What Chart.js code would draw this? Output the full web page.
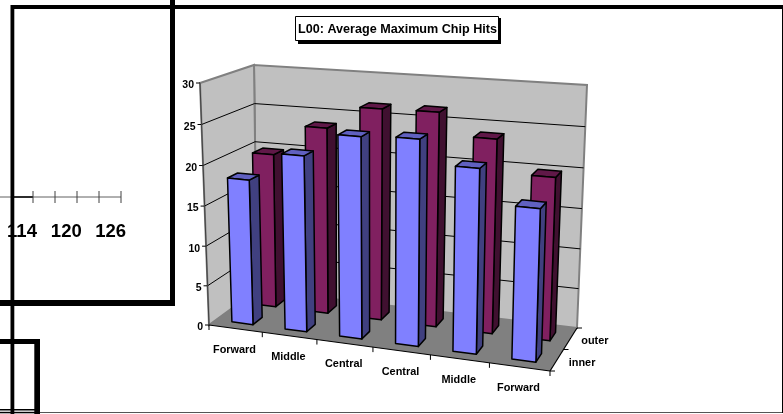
<!DOCTYPE html>
<html>
<head>
<meta charset="utf-8">
<title>L00: Average Maximum Chip Hits</title>
<style>
  html, body { margin: 0; padding: 0; background: #fff; }
  canvas { display: block; }
</style>
<script src="https://cdn.jsdelivr.net/npm/chart.js@4"></script>
</head>
<body>
<canvas id="hitsChart" width="783" height="414"></canvas>
<script>
const chartTitle = 'L00: Average Maximum Chip Hits';
const categories = ['Forward', 'Middle', 'Central', 'Central', 'Middle', 'Forward'];
const innerHits = [18.2, 21.8, 24.7, 25, 22.2, 18.2];
const outerHits = [19.8, 23.7, 26.6, 26.7, 24, 20];
const rulerLabels = ['114', '120', '126'];

const FONT = '"Liberation Sans", Arial, sans-serif';
const innerShades = { front: '#8080ff', side: '#404080', top: '#6060c0' };
const outerShades = { front: '#802060', side: '#401030', top: '#601848' };

// corners of the 3D box on screen, b = floor, t = top; first digit left/right, second front/back
const box = {
  b00: [209, 325], b10: [550, 371], b01: [257, 290], b11: [577, 328],
  t00: [200, 83], t10: [558, 111], t01: [254, 65], t11: [587, 85]
};
const ROW_DEPTH = [0.25, 0.75];
const BAR_DEPTH = 0.2;

const lerp = (a, b, t) => [a[0] + (b[0] - a[0]) * t, a[1] + (b[1] - a[1]) * t];
// slight foreshortening so the near end of an axis gets wider steps
const warp = (t, k) => t / (k - (k - 1) * t);

function project(u, v, w) {
  const uu = warp(u, 1.08), vv = warp(v, 1.035);
  const bottom = lerp(lerp(box.b00, box.b10, uu), lerp(box.b01, box.b11, uu), w);
  const top = lerp(lerp(box.t00, box.t10, uu), lerp(box.t01, box.t11, uu), w);
  return lerp(bottom, top, vv);
}

function poly(ctx, pts, fill, stroke, lw) {
  ctx.beginPath();
  pts.forEach((p, i) => i ? ctx.lineTo(p[0], p[1]) : ctx.moveTo(p[0], p[1]));
  ctx.closePath();
  if (fill) { ctx.fillStyle = fill; ctx.fill(); }
  if (stroke) { ctx.strokeStyle = stroke; ctx.lineWidth = lw; ctx.stroke(); }
}

function line(ctx, a, b, color, lw) {
  ctx.beginPath();
  ctx.moveTo(a[0], a[1]);
  ctx.lineTo(b[0], b[1]);
  ctx.strokeStyle = color;
  ctx.lineWidth = lw;
  ctx.stroke();
}

function label(ctx, text, x, y, size, align) {
  ctx.font = `bold ${size}px ${FONT}`;
  ctx.fillStyle = '#000';
  ctx.textAlign = align;
  ctx.textBaseline = 'middle';
  ctx.fillText(text, x, y);
}

function drawWalls(ctx, yScale) {
  const v = val => (yScale.bottom - yScale.getPixelForValue(val)) / (yScale.bottom - yScale.top);
  poly(ctx, [project(0, 0, 1), project(1, 0, 1), project(1, 1, 1), project(0, 1, 1)], '#c0c0c0', '#808080', 2);
  poly(ctx, [project(0, 0, 0), project(0, 0, 1), project(0, 1, 1), project(0, 1, 0)], '#c0c0c0', '#808080', 2);
  poly(ctx, [project(0, 0, 0), project(1, 0, 0), project(1, 0, 1), project(0, 0, 1)], '#808080');

  yScale.ticks.forEach(t => {
    const a = project(0, v(t.value), 0), b = project(0, v(t.value), 1), c = project(1, v(t.value), 1);
    if (t.value > 0 && t.value < yScale.max) {
      line(ctx, a, b, '#000', 1);
      line(ctx, b, c, '#000', 1);
    }
    line(ctx, [a[0] - 4, a[1]], a, '#000', 1);
    label(ctx, String(t.value), a[0] - 6, a[1] + 2.5, 10.5, 'right');
  });
}

function drawAxes(ctx, xScale) {
  line(ctx, project(0, 0, 0), project(0, 1, 0), '#404040', 1);
  line(ctx, project(0, 0, 0), project(1, 0, 0), '#000', 1.2);
  line(ctx, project(1, 0, 0), project(1, 0, 1), '#000', 1.2);

  const n = categories.length;
  for (let i = 0; i <= n; i++) {
    const p = project(i / n, 0, 0);
    line(ctx, p, [p[0], p[1] + 5], '#000', 1);
  }
  xScale.ticks.forEach((t, i) => {
    const p = project((i + 0.5) / n, 0, 0);
    label(ctx, t.label, p[0] - 1, p[1] + 21, 10.9, 'center');
  });

  [0, 0.5, 1].forEach(w => {
    const p = project(1, 0, w);
    line(ctx, p, [p[0] + 5, p[1]], '#000', 1);
  });
}

function drawBar(ctx, el, area, w0, shades) {
  const props = el.getProps(['x', 'y', 'width'], true);
  const u0 = (props.x - props.width / 2 - area.left) / area.width;
  const u1 = (props.x + props.width / 2 - area.left) / area.width;
  const v = (area.bottom - props.y) / area.height;
  const w1 = w0 + BAR_DEPTH;
  ctx.lineJoin = 'round';
  poly(ctx, [project(u1, 0, w0), project(u1, 0, w1), project(u1, v, w1), project(u1, v, w0)], shades.side, '#000', 1.5);
  poly(ctx, [project(u0, v, w0), project(u1, v, w0), project(u1, v, w1), project(u0, v, w1)], shades.top, '#000', 1.5);
  poly(ctx, [project(u0, 0, w0), project(u1, 0, w0), project(u1, v, w0), project(u0, v, w0)], shades.front, '#000', 1.5);
}

function drawTitleBox(ctx) {
  ctx.fillStyle = '#000';
  ctx.fillRect(298, 18, 203, 26);
  ctx.fillStyle = '#fff';
  ctx.fillRect(295, 16, 203, 25);
  ctx.strokeStyle = '#000';
  ctx.lineWidth = 1;
  ctx.strokeRect(295.5, 16.5, 203, 24);
  label(ctx, chartTitle, 397.5, 29.5, 12.6, 'center');
}

// neighbouring panels that run under and around the chart
function drawFrames(ctx) {
  line(ctx, [0, 197], [121, 197], '#606060', 1);
  line(ctx, [14, 197], [33, 197], '#000', 1.5);
  [33, 55, 77, 99, 121].forEach(x => line(ctx, [x, 191], [x, 203], '#404040', 1));
  rulerLabels.forEach((text, i) => label(ctx, text, 22 + i * 44.3, 231.5, 18.5, 'center'));

  ctx.fillStyle = '#000';
  ctx.fillRect(11, 5, 772, 4);
  ctx.fillRect(10.5, 5, 3.8, 409);
  ctx.fillRect(170, 0, 5, 306);
  ctx.fillRect(0, 300, 175, 6);
  ctx.fillRect(0, 339, 40, 5);
  ctx.fillRect(34.3, 339, 5.7, 75);
  ctx.fillRect(0, 409, 35, 1.5);
  ctx.fillRect(0, 411.8, 35, 1.5);
  ctx.fillStyle = '#555';
  ctx.fillRect(40, 412, 743, 1);
  ctx.fillStyle = '#000';
  ctx.fillRect(782, 9, 1, 404);
}

const chip3d = {
  id: 'chip3d',
  beforeDatasetsDraw(chart) {
    const { ctx, chartArea } = chart;
    ctx.save();
    drawFrames(ctx);
    drawWalls(ctx, chart.scales.y);
    // far row first, then each row from the right so nearer faces paint over
    [1, 0].forEach(ds => {
      const shades = ds ? outerShades : innerShades;
      const w0 = ROW_DEPTH[ds] - BAR_DEPTH / 2;
      chart.getDatasetMeta(ds).data.slice().reverse().forEach(el => drawBar(ctx, el, chartArea, w0, shades));
    });
    drawAxes(ctx, chart.scales.x);
    [1, 0].forEach(ds => {
      const p = project(1, 0, ROW_DEPTH[ds]);
      label(ctx, chart.data.datasets[ds].label, p[0] + 12 - ds, p[1] + 2.5, 10.9, 'left');
    });
    drawTitleBox(ctx);
    ctx.restore();
    return false;
  }
};

new Chart(document.getElementById('hitsChart'), {
  type: 'bar',
  data: {
    labels: categories,
    datasets: [
      { label: 'inner', data: innerHits, backgroundColor: innerShades.front },
      { label: 'outer', data: outerHits, backgroundColor: outerShades.front }
    ]
  },
  options: {
    responsive: false,
    animation: false,
    grouped: false,
    barPercentage: 0.4,
    categoryPercentage: 1,
    layout: { padding: 0 },
    plugins: { legend: { display: false }, title: { display: false }, tooltip: { enabled: false } },
    scales: {
      x: { display: false },
      y: { display: false, min: 0, max: 30, ticks: { stepSize: 5 } }
    }
  },
  plugins: [chip3d]
});
</script>
</body>
</html>
